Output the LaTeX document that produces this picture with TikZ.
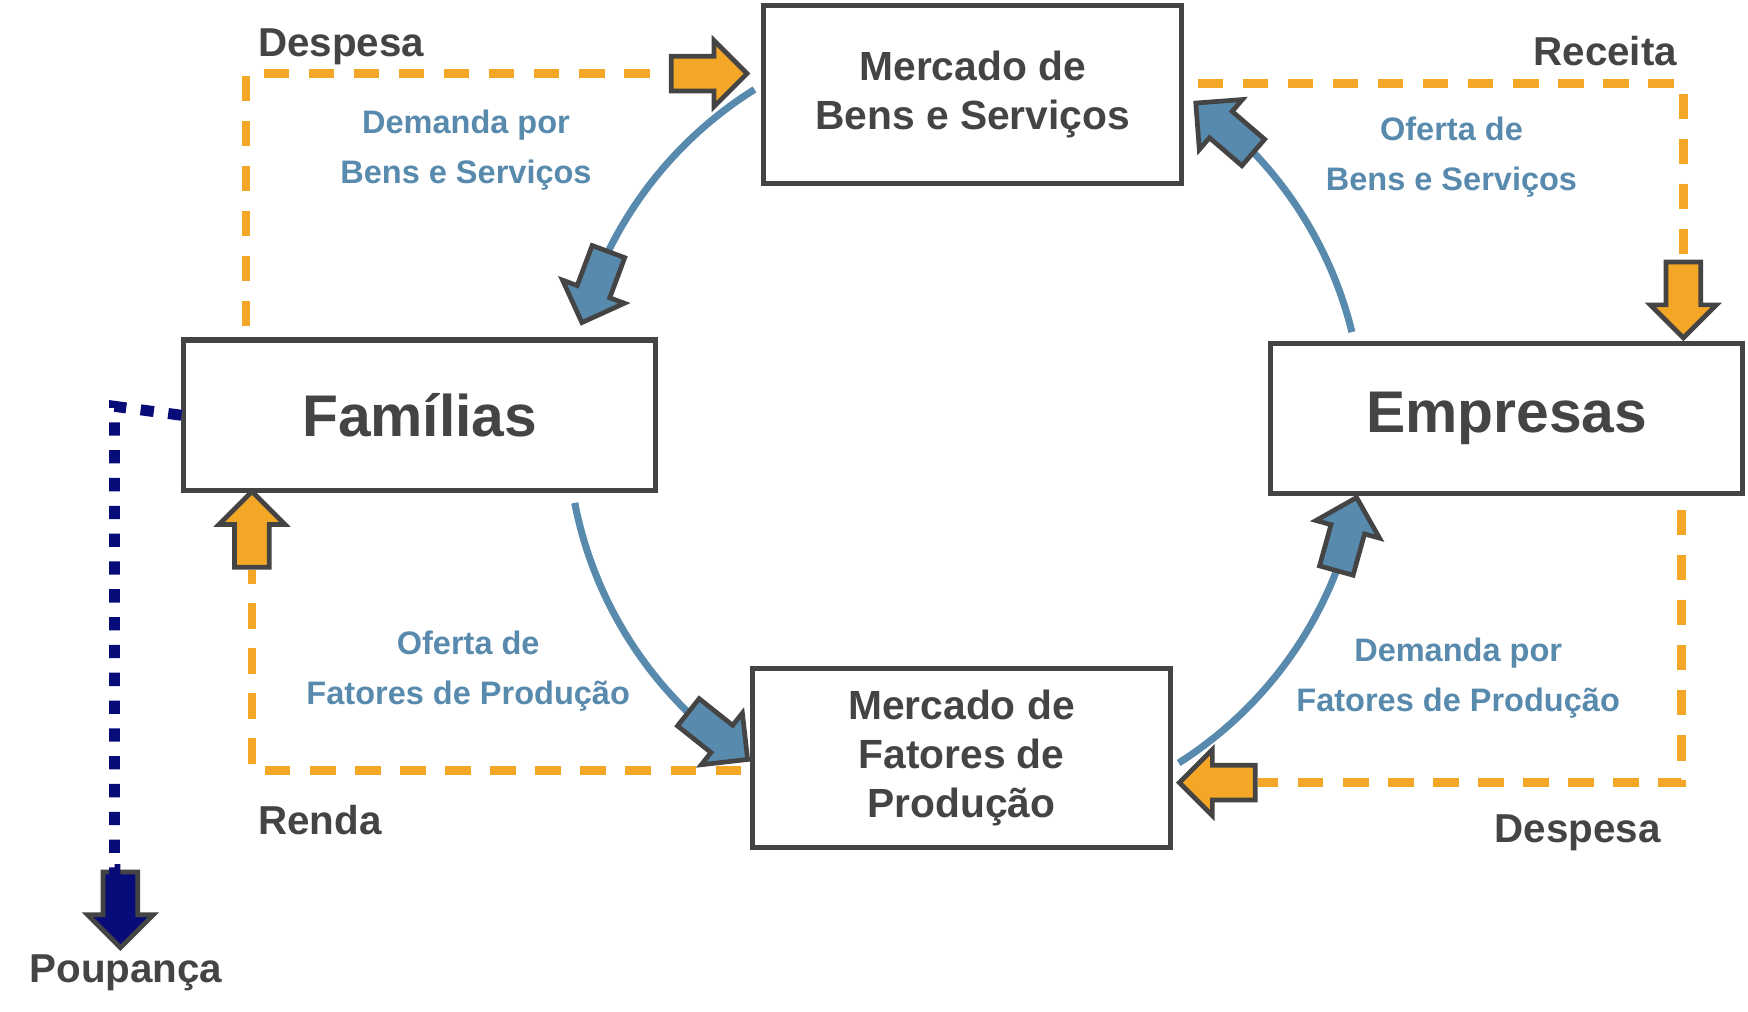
\documentclass[tikz,border=0pt]{standalone}
\usepackage{fontspec}
\setmainfont{Liberation Sans}
\usepackage{tikz}
\usetikzlibrary{shapes.arrows, positioning, calc}
\definecolor{dgray}{RGB}{68,68,68}
\definecolor{flowblue}{RGB}{88,138,173}
\definecolor{cashorange}{RGB}{244,166,38}
\definecolor{savenavy}{RGB}{8,12,120}

\begin{document}
\begin{tikzpicture}[
    boxnode/.style={draw=dgray, line width=1.3pt, fill=white, align=center, text=dgray,
      font=\bfseries\fontsize{10.4}{12.6}\selectfont, minimum width=3.75cm, minimum height=1.6cm, inner sep=0pt},
    bigbox/.style={boxnode, minimum width=4.23cm, minimum height=1.35cm, font=\bfseries\fontsize{15}{18}\selectfont},
    cashlbl/.style={text=dgray, font=\bfseries\fontsize{10.3}{12}\selectfont, inner sep=0pt},
    flowlbl/.style={text=flowblue, align=center, font=\bfseries\fontsize{8.3}{12.8}\selectfont, inner sep=0pt},
    flowline/.style={draw=flowblue, line width=1.8pt},
    moneyline/.style={draw=cashorange, line width=2.2pt, dash pattern=on 6.5pt off 5pt},
    saveline/.style={draw=savenavy, line width=2.8pt, dash pattern=on 3.4pt off 3.7pt},
    blockarr/.style={single arrow, draw=dgray, line width=1.2pt, minimum height=0.68cm,
      single arrow head extend=0.14cm, single arrow tip angle=90, inner xsep=0pt, inner ysep=0.135cm, anchor=tail}
  ]
      \useasboundingbox (0,0) rectangle (15.68,-9.07);

      % Agents and markets
      \node[boxnode] (mbs) at (8.725,-0.85) {Mercado de\\Bens e Serviços};
      \node[boxnode] (mfp) at (8.625,-6.80) {Mercado de\\Fatores de\\Produção};
      \node[bigbox] (fam) at (3.765,-3.725) {Famílias};
      \node[bigbox] (emp) at (13.515,-3.755) {Empresas};

      % Real flow of goods and factors
      \coordinate (c) at (8.66,-3.83);
      \foreach \s/\e/\t/\d [count=\i] in {122/154.5/153.5/249.5, 191/226.5/225.5/321.5,
                                          302.4/339.5/338.5/74.5, 13.8/44.3/43.3/139.3} {
          \draw[flowline] ($(c)+(\s:3.57)$) arc[start angle=\s, end angle=\e, radius=3.57];
          \node[blockarr, fill=flowblue, rotate=\d] (fl\i) at ($(c)+(\t:3.57)$) {};
      }

      % Money flow
      \node[blockarr, fill=cashorange] (inA) at (6.00,-0.66) {};
      \node[blockarr, fill=cashorange, rotate=-90] (inB) at (15.10,-2.33) {};
      \node[blockarr, fill=cashorange, rotate=180] (inC) at (11.28,-7.02) {};
      \node[blockarr, fill=cashorange, rotate=90] (inD) at (2.26,-5.11) {};
      \draw[moneyline] ([shift={(0.58,0.10)}]fam.north west) |- (inA.tail);
      \draw[moneyline] ([shift={(0.12,0.10)}]mbs.east) -| (inB.tail);
      \draw[moneyline] ([shift={(-0.57,-0.12)}]emp.south east) |- (inC.tail);
      \draw[moneyline] ([shift={(-0.08,-0.11)}]mfp.west) -| (inD.tail);

      % Savings leak
      \node[blockarr, fill=savenavy, rotate=-90] (outE) at (1.08,-7.80) {};
      \draw[saveline] (fam.west) -- ++(-0.6,0.08) |- (outE.tail);

      % Labels
      \node[cashlbl] (despA) at (3.06,-0.42) {Despesa};
      \node[cashlbl] (recB) at (14.40,-0.46) {Receita};
      \node[cashlbl] (renC) at (2.87,-7.36) {Renda};
      \node[cashlbl] (despD) at (14.15,-7.47) {Despesa};
      \node[cashlbl] (poupE) at (1.13,-8.73) {Poupança};

      \node[flowlbl] (dbs) at (4.18,-1.35) {Demanda por\\Bens e Serviços};
      \node[flowlbl] (obs) at (13.02,-1.41) {Oferta de\\Bens e Serviços};
      \node[flowlbl] (ofp) at (4.20,-6.02) {Oferta de\\Fatores de Produção};
      \node[flowlbl] (dfp) at (13.08,-6.08) {Demanda por\\Fatores de Produção};
\end{tikzpicture}
\end{document}
